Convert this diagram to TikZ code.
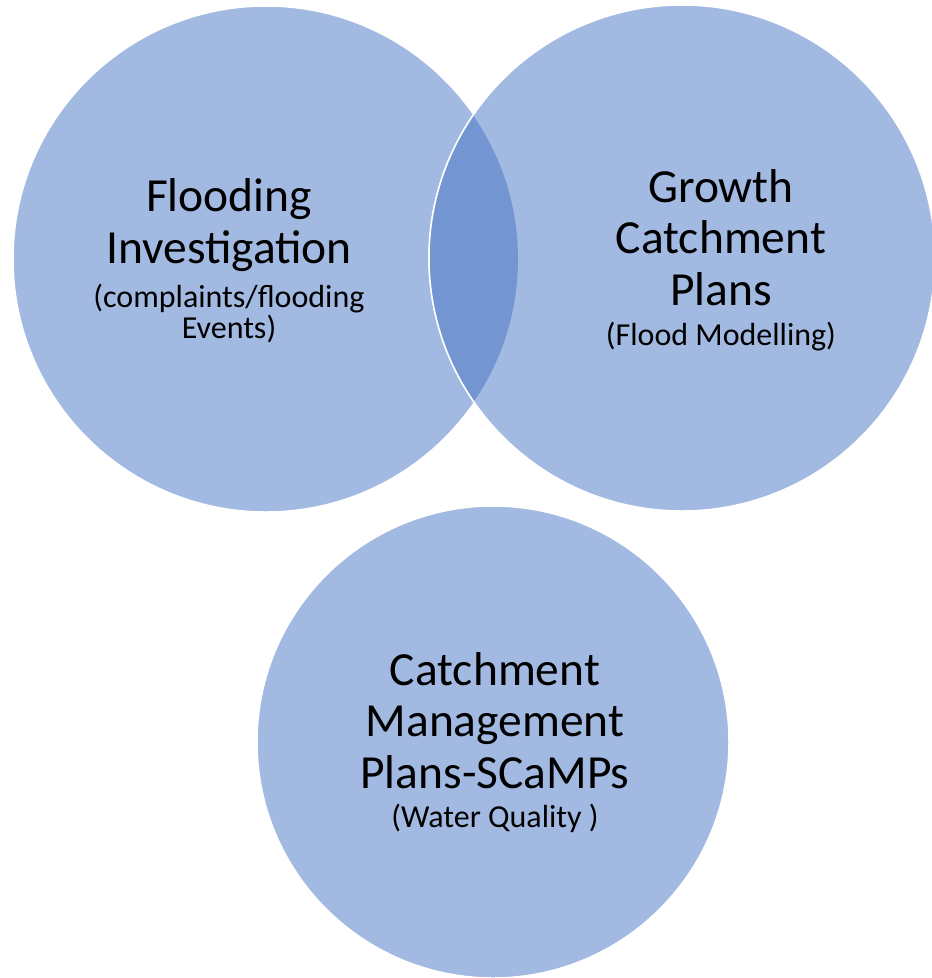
\documentclass[tikz,border=0pt]{standalone}
\usepackage{fontspec}
\setmainfont{Carlito}
\usepackage{xcolor}
\usepackage{tikz}
\usetikzlibrary{positioning,calc}

\definecolor{bubblefill}{HTML}{A2B9E1}
\definecolor{lensfill}{HTML}{7396D2}

\tikzset{
    bubble/.style={circle, fill=bubblefill, draw=white, line width=1.5pt, inner sep=0pt},
    title/.style={align=center, anchor=base, inner sep=0pt, font=\fontsize{47.5}{51.5}\selectfont},
    note/.style={align=center, anchor=base, inner sep=0pt, font=\fontsize{32}{31}\selectfont}
}

\begin{document}
\begin{tikzpicture}[x=1pt, y=-1pt]
    \useasboundingbox (0,0) rectangle (932,978);

    % Circles
    \node[bubble, minimum size=506pt] (flood) at (266,259) {};
    \node[bubble, minimum size=506pt] (growth) at (682,258) {};
    \node[bubble, minimum size=472pt] (scamp) at (493,742) {};

    % Overlap
    \begin{scope}
        \clip (flood.center) circle (252pt);
        \fill[lensfill] (growth.center) circle (253pt);
        \draw[white, line width=1.5pt] (growth.center) circle (253pt);
    \end{scope}

    % Flooding
    \node[title] (floodtitle) at (229,263) {Flooding\\Investigation};
    \node[note] (floodnote) at (229,338) {(complaints/flooding\\Events)};

    % Growth
    \node[title] (growthtitle) at (721,305) {Growth\\Catchment\\Plans};
    \node[note] (growthnote) at (721,345) {(Flood Modelling)};

    % SCaMPs
    \node[title] (scamptitle) at (495,788) {Catchment\\Management\\Plans-SCaMPs};
    \node[note] (scampnote) at (495,827) {(Water Quality )};
\end{tikzpicture}
\end{document}
